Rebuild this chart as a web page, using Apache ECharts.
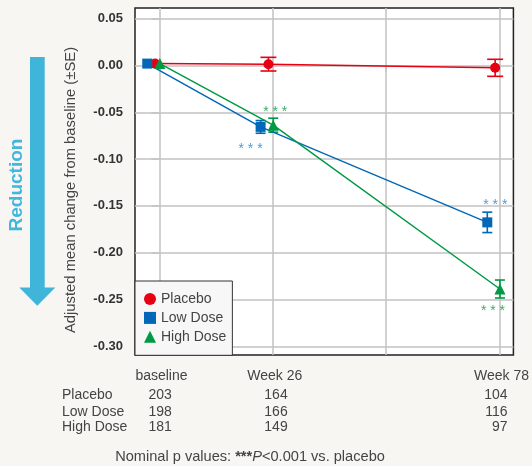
<!DOCTYPE html>
<html>
<head>
<meta charset="utf-8">
<script src="https://cdn.jsdelivr.net/npm/echarts@6/dist/echarts.min.js"></script>
<style>
html, body { margin: 0; padding: 0; background: #f7f6f2; }
#chart { width: 532px; height: 466px; }
</style>
</head>
<body>
<div id="chart"></div>
<script>
// 时间点（周）与刻度
const weeks = [0, 26, 78];
const weekLabels = ['baseline', 'Week 26', 'Week 78'];
const gridWeeks = [0, 26, 52, 78];
const yTicks = [-0.30, -0.25, -0.20, -0.15, -0.10, -0.05, 0.00, 0.05];

// 各组均值与标准误
const seriesNames = ['Placebo', 'Low Dose', 'High Dose'];
const placeboMean = [0.002, 0.0014, -0.0025];
const placeboSE = [0, 0.0073, 0.0091];
const lowMean = [0.002, -0.0656, -0.1676];
const lowSE = [0, 0.0068, 0.0109];
const highMean = [0.002, -0.0638, -0.2388];
const highSE = [0, 0.0075, 0.0096];

// 各时间点例数
const placeboN = [203, 164, 104];
const lowN = [198, 166, 116];
const highN = [181, 149, 97];

// 显著性 (*** P<0.001)
const lowSig = [false, true, true];
const highSig = [false, true, true];

const FONT = '"Liberation Sans", Arial, Helvetica, sans-serif';
const RED = '#e60012', BLUE = '#0068b7', GREEN = '#009944';
const X_MIN = -5.61, X_MAX = 81.19;

// 标记的水平错位（周）
const dodge = [-1, -2.8, 0.1];
// *** 标签偏移 (px)
const sigOffset = [null, [[-10, 22], [8, -17]], [[2, -13], [-7, 22]]];
const sigColor = [null, '#4f9bd9', '#3cae63'];

const chart = echarts.init(document.getElementById('chart'));

const means = [placeboMean, lowMean, highMean];
const ses = [placeboSE, lowSE, highSE];
const sigs = [null, lowSig, highSig];
const colors = [RED, BLUE, GREEN];
const symbols = ['circle', 'rect', 'triangle'];
const symbolSizes = [10, 10, 11];
const caps = [8, 5, 5];

const lineSeries = seriesNames.map((name, s) => ({
    name: name,
    type: 'line',
    z: 4,
    symbol: symbols[s],
    symbolSize: symbolSizes[s],
    itemStyle: { color: colors[s] },
    lineStyle: { color: colors[s], width: 1.5 },
    emphasis: { disabled: true },
    data: weeks.map((w, i) => {
        const item = { value: [w + dodge[s], means[s][i]] };
        if (sigs[s] && sigs[s][i]) {
            const k = weeks.slice(1).indexOf(w);
            item.label = {
                show: true, position: 'inside', formatter: '* * *',
                offset: sigOffset[s][k],
                color: sigColor[s], fontSize: 14, fontFamily: FONT
            };
        }
        return item;
    })
}));

const errorSeries = seriesNames.map((name, s) => ({
    name: name,
    type: 'custom',
    z: 3,
    silent: true,
    data: weeks.map((w, i) => [w + dodge[s], means[s][i] - ses[s][i], means[s][i] + ses[s][i]])
        .filter((d, i) => ses[s][i] > 0),
    encode: { x: 0, y: [1, 2] },
    renderItem(params, api) {
        const x = api.value(0);
        const lo = api.coord([x, api.value(1)]);
        const hi = api.coord([x, api.value(2)]);
        const style = { stroke: colors[s], lineWidth: 1.6 };
        const c = caps[s];
        return {
            type: 'group',
            children: [
                { type: 'line', shape: { x1: lo[0], y1: lo[1], x2: hi[0], y2: hi[1] }, style },
                { type: 'line', shape: { x1: lo[0] - c, y1: lo[1], x2: lo[0] + c, y2: lo[1] }, style },
                { type: 'line', shape: { x1: hi[0] - c, y1: hi[1], x2: hi[0] + c, y2: hi[1] }, style }
            ]
        };
    }
}));

// 例数表：每行一条隐藏的 x 轴
const countRows = [placeboN, lowN, highN];
const rowOffsets = [33, 50, 65];
const countAxes = countRows.map((n, r) => ({
    type: 'value', gridIndex: 0, position: 'bottom', offset: rowOffsets[r],
    min: X_MIN, max: X_MAX,
    axisLine: { show: false }, axisTick: { show: false }, splitLine: { show: false },
    axisLabel: {
        customValues: weeks, margin: 0,
        formatter: v => { const i = weeks.indexOf(v); return '{c' + i + '|' + n[i] + '}'; },
        rich: {
            c0: { width: 22, align: 'left', fontSize: 14, color: '#444', fontFamily: FONT },
            c1: { width: 17, align: 'left', fontSize: 14, color: '#444', fontFamily: FONT },
            c2: { width: 16, align: 'right', fontSize: 14, color: '#444', fontFamily: FONT }
        }
    },
    name: seriesNames[r], nameLocation: 'start', nameGap: 73,
    nameTextStyle: { align: 'left', verticalAlign: 'top', fontSize: 14, color: '#444', fontFamily: FONT }
}));

const option = {
    backgroundColor: '#f7f6f2',
    animation: false,
    textStyle: { fontFamily: FONT },
    grid: {
        left: 135, top: 8, width: 380, height: 347,
        show: true, backgroundColor: '#fff', borderColor: '#222', borderWidth: 1.5
    },
    legend: {
        left: 135, top: 281, orient: 'vertical',
        data: [
            { name: 'Placebo', icon: 'circle' },
            { name: 'Low Dose', icon: 'rect' },
            { name: 'High Dose', icon: 'triangle' }
        ],
        itemWidth: 12, itemHeight: 12, itemGap: 4.9,
        padding: [11, 6, 11.5, 9],
        backgroundColor: '#f7f7f7', borderColor: '#333', borderWidth: 1, borderRadius: 0,
        textStyle: { fontSize: 14, color: '#444', fontFamily: FONT },
        selectedMode: false
    },
    xAxis: [{
        type: 'value', min: X_MIN, max: X_MAX,
        axisLine: { show: false },
        axisTick: { show: true, customValues: gridWeeks, length: 6, lineStyle: { color: '#c2c2c2', width: 1.5 } },
        axisLabel: {
            customValues: weeks, margin: 14, fontSize: 14, color: '#444', padding: [0, 0, 0, 4],
            formatter: v => weekLabels[weeks.indexOf(v)]
        },
        splitLine: { show: true, lineStyle: { color: '#c2c2c2', width: 1.5 } }
    }].concat(countAxes),
    yAxis: {
        type: 'value', min: -0.3093, max: 0.0614,
        axisLine: { show: false },
        axisTick: { show: true, customValues: yTicks, length: 8, lineStyle: { color: '#c2c2c2', width: 1.5 } },
        axisLabel: {
            customValues: yTicks, margin: 12, fontSize: 13, fontWeight: 'bold', color: '#333',
            formatter: v => v.toFixed(2)
        },
        splitLine: { show: true, lineStyle: { color: '#c2c2c2', width: 1.5 } }
    },
    graphic: [
        // Reduction 箭头
        { type: 'rect', shape: { x: 30, y: 57, width: 14.7, height: 231 }, style: { fill: '#40b5da' } },
        { type: 'polygon', shape: { points: [[19.3, 287.5], [55.3, 287.5], [37.3, 305.7]] }, style: { fill: '#40b5da' } },
        {
            type: 'text', x: 17, y: 185, rotation: Math.PI / 2,
            style: { text: 'Reduction', fill: '#43b6dc', font: 'bold 19px ' + FONT, align: 'center', verticalAlign: 'middle' }
        },
        {
            type: 'text', x: 71, y: 190, rotation: Math.PI / 2,
            style: { text: 'Adjusted mean change from baseline (±SE)', fill: '#444', font: '14.8px ' + FONT, align: 'center', verticalAlign: 'middle' }
        },
        {
            type: 'text', x: 250, y: 457,
            style: {
                text: 'Nominal p values: {b|***}{i|P}<0.001 vs. placebo',
                fill: '#444', font: '14.6px ' + FONT, align: 'center', verticalAlign: 'middle',
                rich: {
                    b: { fontWeight: 'bold', fontSize: 14.6, fill: '#444', fontFamily: FONT },
                    i: { fontStyle: 'italic', fontSize: 14.6, fill: '#444', fontFamily: FONT }
                }
            }
        }
    ],
    series: lineSeries.concat(errorSeries)
};

chart.setOption(option);
</script>
</body>
</html>
